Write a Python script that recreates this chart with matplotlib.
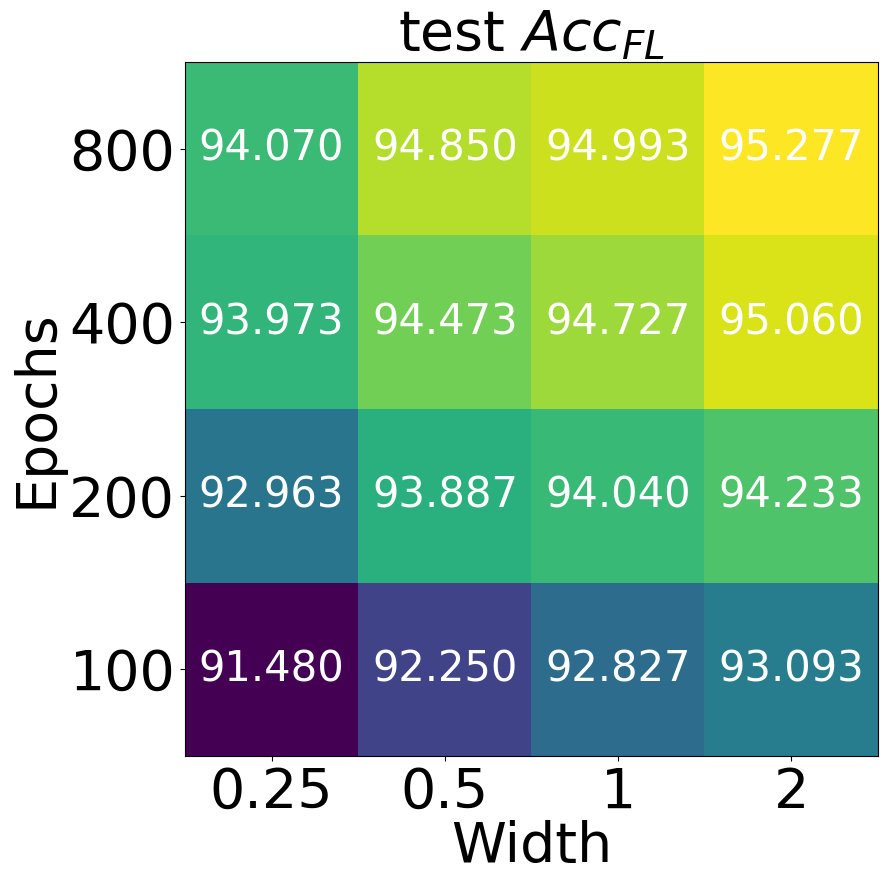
import matplotlib
matplotlib.use("Agg")
import matplotlib.pyplot as plt
import numpy as np

widths = ["0.25", "0.5", "1", "2"]
epochs = ["100", "200", "400", "800"]
# rows follow epochs (100 at bottom), columns follow widths
acc = np.array([
    [91.480, 92.250, 92.827, 93.093],
    [92.963, 93.887, 94.040, 94.233],
    [93.973, 94.473, 94.727, 95.060],
    [94.070, 94.850, 94.993, 95.277],
])

fig = plt.figure(figsize=(8.88, 8.89), dpi=100)
ax = fig.add_axes([0.2083, 0.1496, 0.7804, 0.7807])
ax.imshow(acc, cmap="viridis", origin="lower", aspect="auto")

for i in range(len(epochs)):
    for j in range(len(widths)):
        ax.text(j, i, f"{acc[i, j]:.3f}", ha="center", va="center",
                color="white", fontsize=30)

ax.set_xticks(range(len(widths)))
ax.set_xticklabels(widths)
ax.set_yticks(range(len(epochs)))
ax.set_yticklabels(epochs)
ax.tick_params(labelsize=40)
ax.set_xlabel("Width", fontsize=40, labelpad=0)
ax.set_ylabel("Epochs", fontsize=40, labelpad=4)
ax.set_title("test $Acc_{FL}$", fontsize=40, pad=4)

plt.savefig("out.png", dpi=100)
